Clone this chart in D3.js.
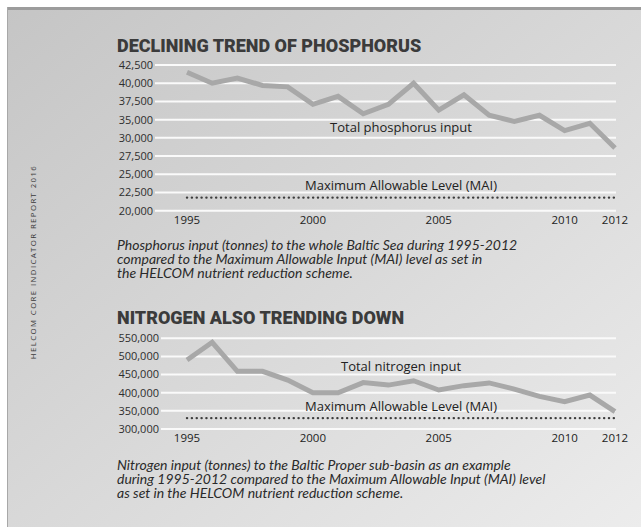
<!DOCTYPE html>
<meta charset="utf-8">
<style>
body { margin: 0; }
svg { display: block; font-family: "Open Sans", sans-serif; }
.grid line { stroke: #fafafa; stroke-width: 2; }
.tick-label { font-size: 11px; fill: #2e2e2e; }
.year-label { font-size: 11.5px; fill: #222; text-anchor: middle; }
.title { font-family: Roboto, sans-serif; font-weight: 900; font-size: 18px; fill: #3b3b3b; }
.series { fill: none; stroke: #a8a8a8; stroke-width: 5; }
.mai { fill: none; stroke: #3c3c3c; stroke-width: 2.4; stroke-linecap: round; stroke-dasharray: 0.1 4.75; }
.inline-label { font-size: 13px; fill: #222; text-anchor: middle; }
.caption { font-family: Lato, sans-serif; font-style: italic; font-size: 14px; fill: #2a2a2a; }
.side { font-size: 7.8px; letter-spacing: 1.4px; fill: #3a3a3a; text-anchor: middle; }
</style>
<svg width="641" height="527"></svg>
<script src="https://d3js.org/d3.v7.min.js"></script>
<script>

var years = [1995, 1996, 1997, 1998, 1999, 2000, 2001, 2002, 2003, 2004, 2005, 2006, 2007, 2008, 2009, 2010, 2011, 2012];
var yearTicks = [1995, 2000, 2005, 2010, 2012];

// phosphorus (tonnes) - axis in the original skips 32,500, kept as drawn
var phosphorus = [41500, 40000, 40700, 39700, 39500, 37100, 38200, 35800, 37100, 40000, 36300, 38400, 35600, 34500, 35600, 32000, 34000, 28600];
var phosphorusMAI = 21800;
var phosphorusTicks = [20000, 22500, 25000, 27500, 30000, 35000, 37500, 40000, 42500];

// nitrogen (tonnes), Baltic Proper
var nitrogen = [490000, 539000, 459000, 459000, 435000, 400000, 400000, 428000, 421000, 433000, 407500, 419500, 427000, 410000, 390000, 375000, 393500, 348000];
var nitrogenMAI = 330000;
var nitrogenTicks = [300000, 350000, 400000, 450000, 500000, 550000];

var svg = d3.select("svg");

// background panel
var defs = svg.append("defs");
var grad = defs.append("linearGradient")
    .attr("id", "bg")
    .attr("x1", "0").attr("y1", "0")
    .attr("x2", "1").attr("y2", "1");
grad.append("stop").attr("offset", "0%").attr("stop-color", "#c5c5c5");
grad.append("stop").attr("offset", "55%").attr("stop-color", "#dadada");
grad.append("stop").attr("offset", "100%").attr("stop-color", "#ececec");

svg.append("rect").attr("width", 641).attr("height", 527).attr("fill", "#fff");
svg.append("rect").attr("x", 7).attr("y", 7).attr("width", 634).attr("height", 520).attr("fill", "url(#bg)");
svg.append("rect").attr("x", 7).attr("y", 7).attr("width", 634).attr("height", 3).attr("fill", "#9c9c9c");
svg.append("rect").attr("x", 7).attr("y", 7).attr("width", 1).attr("height", 520).attr("fill", "#a8a8a8");

svg.append("text")
    .attr("class", "side")
    .attr("transform", "translate(36,262) rotate(-90)")
    .text("HELCOM CORE INDICATOR REPORT 2016");

var x = d3.scaleLinear().domain([1995, 2012]).range([187, 615]);

function drawChart(opt) {
    var g = svg.append("g");
    var y = opt.y;

    g.append("text")
        .attr("class", "title")
        .attr("x", 117)
        .attr("y", opt.titleY)
        .text(opt.title);

    g.append("g")
        .attr("class", "grid")
        .selectAll("line")
        .data(opt.ticks)
        .enter().append("line")
        .attr("x1", opt.gridX0)
        .attr("x2", 616)
        .attr("y1", function(d) { return y(d); })
        .attr("y2", function(d) { return y(d); });

    g.append("g")
        .selectAll("text")
        .data(opt.ticks)
        .enter().append("text")
        .attr("class", "tick-label")
        .attr("x", opt.gridX0 - 2)
        .attr("y", function(d) { return y(d); })
        .attr("dy", "0.35em")
        .attr("text-anchor", "end")
        .text(d3.format(","));

    g.append("g")
        .selectAll("text")
        .data(yearTicks)
        .enter().append("text")
        .attr("class", "year-label")
        .attr("x", function(d) { return x(d); })
        .attr("y", y.range()[0] + 9)
        .attr("dy", "0.35em")
        .text(function(d) { return d; });

    g.append("path")
        .datum(years)
        .attr("class", "mai")
        .attr("d", d3.line()
            .x(function(d) { return x(d); })
            .y(function() { return y(opt.mai); }));

    g.append("path")
        .datum(opt.values)
        .attr("class", "series")
        .attr("d", d3.line()
            .x(function(d, i) { return x(years[i]); })
            .y(function(d) { return y(d); }));

    g.append("text")
        .attr("class", "inline-label")
        .attr("x", 401)
        .attr("y", opt.seriesLabelY)
        .attr("dy", "0.35em")
        .text(opt.seriesLabel);

    g.append("text")
        .attr("class", "inline-label")
        .attr("x", 401)
        .attr("y", opt.maiLabelY)
        .attr("dy", "0.35em")
        .text("Maximum Allowable Level (MAI)");

    g.append("g")
        .selectAll("text")
        .data(opt.caption)
        .enter().append("text")
        .attr("class", "caption")
        .attr("x", 117)
        .attr("y", function(d, i) { return opt.captionY + i * 14.2; })
        .attr("dy", "0.35em")
        .text(function(d) { return d; });
}

// phosphorus: ticks are spaced evenly even where the values jump
var yP = d3.scaleLinear()
    .domain(phosphorusTicks)
    .range(phosphorusTicks.map(function(d, i) { return 210.7 - i * 18.21; }));

drawChart({
    title: "DECLINING TREND OF PHOSPHORUS",
    titleY: 52,
    y: yP,
    ticks: phosphorusTicks,
    gridX0: 155,
    values: phosphorus,
    mai: phosphorusMAI,
    seriesLabel: "Total phosphorus input",
    seriesLabelY: 127,
    maiLabelY: 185,
    caption: [
        "Phosphorus input (tonnes) to the whole Baltic Sea during 1995-2012",
        "compared to the Maximum Allowable Input (MAI) level as set in",
        "the HELCOM nutrient reduction scheme."
    ],
    captionY: 245
});

var yN = d3.scaleLinear()
    .domain([300000, 550000])
    .range([429, 338.3]);

drawChart({
    title: "NITROGEN ALSO TRENDING DOWN",
    titleY: 324,
    y: yN,
    ticks: nitrogenTicks,
    gridX0: 161,
    values: nitrogen,
    mai: nitrogenMAI,
    seriesLabel: "Total nitrogen input",
    seriesLabelY: 366,
    maiLabelY: 406,
    caption: [
        "Nitrogen input (tonnes) to the Baltic Proper sub-basin as an example",
        "during 1995-2012 compared to the Maximum Allowable Input (MAI) level",
        "as set in the HELCOM nutrient reduction scheme."
    ],
    captionY: 465
});
</script>
